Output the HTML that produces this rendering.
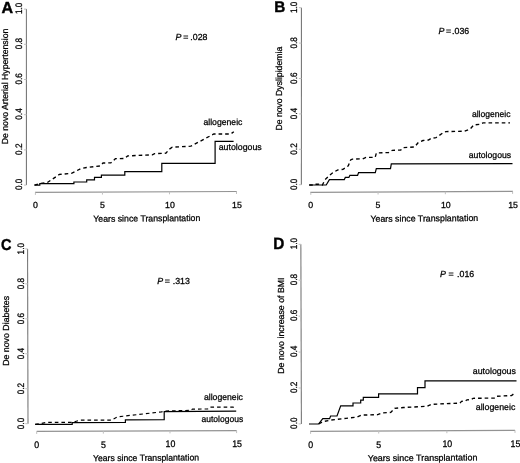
<!DOCTYPE html>
<html lang="en">
<head>
<meta charset="utf-8">
<title>De novo cardiovascular risk factors after transplantation</title>
<style>
html,body{margin:0;padding:0;background:#fff;}
body{width:520px;height:463px;overflow:hidden;}
svg{display:block;}
text{font-family:"Liberation Sans", sans-serif;text-rendering:geometricPrecision;fill:#000;stroke:#000;stroke-width:0.26px;paint-order:stroke;}
.t{font-size:8.8px;}
.letter{font-size:15.3px;font-weight:bold;fill:#000;stroke-width:0.4px;}
.ax{stroke:#7a7a7a;stroke-width:1.1;fill:none;}
.axx{stroke:#939393;stroke-width:1.2;fill:none;}
.tk{stroke:#c0c0c0;stroke-width:1;fill:none;}
.solid{stroke:#000;stroke-width:1.2;fill:none;stroke-linejoin:miter;}
.dashed{stroke:#000;fill:none;stroke-dasharray:3.6 3;}
</style>
</head>
<body>
<svg width="520" height="463" viewBox="0 0 520 463">
<rect x="0" y="0" width="520" height="463" fill="#ffffff"/>

<g id="panel-A">
<text class="letter" transform="translate(1.4,12.75) scale(1.05,1.04)">A</text>
<path class="ax" d="M26.4,9.1 L26.45,185.1"/>
<path class="tk" d="M23.95,185.10 H26.45"/>
<text class="t" text-anchor="middle" transform="translate(21.9,184.40) rotate(-90) scale(0.93,1.07)">0.0</text>
<path class="tk" d="M23.95,149.90 H26.45"/>
<text class="t" text-anchor="middle" transform="translate(21.9,149.20) rotate(-90) scale(0.93,1.07)">0.2</text>
<path class="tk" d="M23.95,114.70 H26.45"/>
<text class="t" text-anchor="middle" transform="translate(21.9,114.00) rotate(-90) scale(0.93,1.07)">0.4</text>
<path class="tk" d="M23.95,79.50 H26.45"/>
<text class="t" text-anchor="middle" transform="translate(21.9,78.80) rotate(-90) scale(0.93,1.07)">0.6</text>
<path class="tk" d="M23.95,44.30 H26.45"/>
<text class="t" text-anchor="middle" transform="translate(21.9,43.60) rotate(-90) scale(0.93,1.07)">0.8</text>
<path class="tk" d="M23.95,9.10 H26.45"/>
<text class="t" text-anchor="middle" transform="translate(21.9,8.40) rotate(-90) scale(0.93,1.07)">1.0</text>
<path class="axx" d="M35.0,192.4 L236.9,191.5"/>
<path class="tk" d="M35.40,192.40 V194.90"/>
<text class="t" text-anchor="middle" transform="translate(35.40,208.46) scale(1,1.0)">0</text>
<path class="tk" d="M102.43,192.10 V194.60"/>
<text class="t" text-anchor="middle" transform="translate(102.43,208.16) scale(1,1.0)">5</text>
<path class="tk" d="M169.47,191.80 V194.30"/>
<text class="t" text-anchor="middle" transform="translate(169.97,207.86) scale(1,1.0)">10</text>
<path class="tk" d="M236.50,191.50 V194.00"/>
<text class="t" text-anchor="middle" transform="translate(237.00,207.56) scale(1,1.0)">15</text>
<text class="t" text-anchor="middle" transform="translate(146.8,221.4) rotate(-0.4) scale(0.993,1)">Years since Transplantation</text>
<text class="t" text-anchor="middle" transform="translate(8.0,86.5) rotate(-90) scale(0.99,1)">De novo Arterial Hypertension</text>
<text class="t" y="40.4"><tspan x="175.6" font-style="italic">P </tspan><tspan x="183.2">= </tspan><tspan x="190.3">.028</tspan></text>
<text class="t" transform="translate(203.4,125) scale(0.985,1)">allogeneic</text>
<text class="t" transform="translate(218.7,150.3) scale(1.0,1)">autologous</text>
<path class="dashed" stroke-width="1.35" d="M34.50,185.20 L39.50,183.60 L47.30,182.60 L59.40,174.40 L71.50,173.40 L80.70,168.70 L86.50,167.50 L100.00,166.00 L103.00,163.00 L110.80,162.90 L115.40,158.70 L124.60,158.50 L127.70,155.90 L152.30,154.80 L154.60,153.60 L166.00,153.20 L169.00,149.40 L172.30,147.20 L190.80,146.20 L213.80,134.00 L230.80,134.00 L233.80,131.70"/>
<path class="solid" d="M34.50,185.20 L39.80,185.20 L39.80,183.70 L73.90,183.70 L73.90,182.00 L86.70,182.00 L86.70,179.90 L94.50,179.90 L94.50,177.40 L101.40,177.40 L101.40,175.20 L124.80,175.20 L124.80,171.60 L161.80,171.60 L161.80,163.30 L215.10,163.30 L215.10,141.30 L233.60,141.30"/>
</g>
<g id="panel-B">
<text class="letter" transform="translate(274.3,11.7) scale(1.0,1.0)">B</text>
<path class="ax" d="M301.45,7.7 L301.4,184.7"/>
<path class="tk" d="M298.95,184.70 H301.45"/>
<text class="t" text-anchor="middle" transform="translate(297.0,184.40) rotate(-90) scale(0.93,1.07)">0.0</text>
<path class="tk" d="M298.95,149.30 H301.45"/>
<text class="t" text-anchor="middle" transform="translate(297.0,149.00) rotate(-90) scale(0.93,1.07)">0.2</text>
<path class="tk" d="M298.95,113.90 H301.45"/>
<text class="t" text-anchor="middle" transform="translate(297.0,113.60) rotate(-90) scale(0.93,1.07)">0.4</text>
<path class="tk" d="M298.95,78.50 H301.45"/>
<text class="t" text-anchor="middle" transform="translate(297.0,78.20) rotate(-90) scale(0.93,1.07)">0.6</text>
<path class="tk" d="M298.95,43.10 H301.45"/>
<text class="t" text-anchor="middle" transform="translate(297.0,42.80) rotate(-90) scale(0.93,1.07)">0.8</text>
<path class="tk" d="M298.95,7.70 H301.45"/>
<text class="t" text-anchor="middle" transform="translate(297.0,7.40) rotate(-90) scale(0.93,1.07)">1.0</text>
<path class="axx" d="M310.3,192.35 L513.0,191.4"/>
<path class="tk" d="M310.80,192.35 V194.85"/>
<text class="t" text-anchor="middle" transform="translate(310.80,208.46) scale(1,1.0)">0</text>
<path class="tk" d="M378.07,192.03 V194.53"/>
<text class="t" text-anchor="middle" transform="translate(378.07,208.15) scale(1,1.0)">5</text>
<path class="tk" d="M445.33,191.72 V194.22"/>
<text class="t" text-anchor="middle" transform="translate(445.83,207.83) scale(1,1.0)">10</text>
<path class="tk" d="M512.60,191.40 V193.90"/>
<text class="t" text-anchor="middle" transform="translate(513.10,207.52) scale(1,1.0)">15</text>
<text class="t" text-anchor="middle" transform="translate(424.3,221.4) rotate(-0.4) scale(1.0,1)">Years since Transplantation</text>
<text class="t" text-anchor="middle" transform="translate(281.9,88.7) rotate(-90) scale(0.985,1)">De novo Dyslipidemia</text>
<text class="t" y="34.2"><tspan x="438.5" font-style="italic">P </tspan><tspan x="446.1">= </tspan><tspan x="452.1">.036</tspan></text>
<text class="t" transform="translate(471.9,116.6) scale(0.975,1)">allogeneic</text>
<text class="t" transform="translate(468.75,158) scale(0.985,1)">autologous</text>
<path class="dashed" stroke-width="1.35" d="M309.20,185.00 L314.50,185.00 L315.50,184.20 L318.50,184.20 L319.50,185.00 L322.30,185.00 L325.20,179.60 L329.80,175.20 L332.70,172.70 L337.90,169.90 L343.00,169.30 L348.30,165.80 L350.60,160.00 L352.30,159.10 L362.70,158.80 L366.00,157.30 L375.20,157.30 L376.40,152.90 L388.50,152.60 L392.30,150.30 L400.80,150.00 L403.00,147.70 L414.60,147.00 L418.50,142.30 L423.00,140.50 L428.50,140.00 L431.50,138.20 L436.00,137.70 L443.80,132.30 L446.00,131.60 L464.60,131.20 L470.00,129.20 L473.80,125.00 L480.00,124.30 L483.00,122.90 L510.00,122.90"/>
<path class="solid" d="M309.20,185.00 L326.20,185.00 L329.40,179.70 L344.30,179.70 L345.30,177.40 L348.90,177.40 L349.90,175.30 L357.60,175.30 L358.60,172.60 L375.30,172.60 L376.30,168.70 L390.50,168.70 L391.30,163.90 L512.50,163.60"/>
</g>
<g id="panel-C">
<text class="letter" transform="translate(0.9,249.6) scale(0.95,1.04)">C</text>
<path class="ax" d="M27.55,248.9 L28.0,423.7"/>
<path class="tk" d="M25.3,423.70 H27.8"/>
<text class="t" text-anchor="middle" transform="translate(23.6,423.50) rotate(-90) scale(0.93,1.07)">0.0</text>
<path class="tk" d="M25.3,388.74 H27.8"/>
<text class="t" text-anchor="middle" transform="translate(23.6,388.54) rotate(-90) scale(0.93,1.07)">0.2</text>
<path class="tk" d="M25.3,353.78 H27.8"/>
<text class="t" text-anchor="middle" transform="translate(23.6,353.58) rotate(-90) scale(0.93,1.07)">0.4</text>
<path class="tk" d="M25.3,318.82 H27.8"/>
<text class="t" text-anchor="middle" transform="translate(23.6,318.62) rotate(-90) scale(0.93,1.07)">0.6</text>
<path class="tk" d="M25.3,283.86 H27.8"/>
<text class="t" text-anchor="middle" transform="translate(23.6,283.66) rotate(-90) scale(0.93,1.07)">0.8</text>
<path class="tk" d="M25.3,248.90 H27.8"/>
<text class="t" text-anchor="middle" transform="translate(23.6,248.70) rotate(-90) scale(0.93,1.07)">1.0</text>
<path class="axx" d="M36.7,431.45 L236.7,430.6"/>
<path class="tk" d="M36.70,431.45 V433.95"/>
<text class="t" text-anchor="middle" transform="translate(36.70,447.95) scale(1,1.08)">0</text>
<path class="tk" d="M103.33,431.17 V433.67"/>
<text class="t" text-anchor="middle" transform="translate(103.33,447.67) scale(1,1.08)">5</text>
<path class="tk" d="M169.97,430.88 V433.38"/>
<text class="t" text-anchor="middle" transform="translate(170.47,447.38) scale(1,1.08)">10</text>
<path class="tk" d="M236.60,430.60 V433.10"/>
<text class="t" text-anchor="middle" transform="translate(237.10,447.10) scale(1,1.08)">15</text>
<text class="t" text-anchor="middle" transform="translate(146.0,460.8) rotate(-0.4) scale(0.985,1)">Years since Transplantation</text>
<text class="t" text-anchor="middle" transform="translate(9.3,330.9) rotate(-90) scale(1.0,1)">De novo Diabetes</text>
<text class="t" y="284.2"><tspan x="157.3" font-style="italic">P </tspan><tspan x="164.8">= </tspan><tspan x="172.7">.313</tspan></text>
<text class="t" transform="translate(203.9,400.3) scale(0.985,1)">allogeneic</text>
<text class="t" transform="translate(201.5,421.8) scale(0.968,1)">autologous</text>
<path class="dashed" stroke-width="1.15" d="M35.20,424.40 L41.40,423.40 L46.00,422.40 L72.00,422.40 L80.00,420.10 L111.50,420.10 L117.00,417.00 L123.00,416.20 L161.50,411.90 L164.50,411.00 L190.80,410.40 L192.50,409.10 L207.70,409.00 L209.50,407.20 L233.40,407.10 L234.90,404.40"/>
<path class="solid" d="M35.20,424.40 L72.20,424.30 L72.20,422.60 L125.40,422.50 L125.40,419.80 L164.20,419.60 L164.20,411.70 L236.20,411.20"/>
</g>
<g id="panel-D">
<text class="letter" transform="translate(273.2,248.5) scale(1.0,1.08)">D</text>
<path class="ax" d="M300.85,244.3 L301.4,423.9"/>
<path class="tk" d="M298.6,423.90 H301.1"/>
<text class="t" text-anchor="middle" transform="translate(297,423.20) rotate(-90) scale(0.93,1.07)">0.0</text>
<path class="tk" d="M298.6,387.98 H301.1"/>
<text class="t" text-anchor="middle" transform="translate(297,387.28) rotate(-90) scale(0.93,1.07)">0.2</text>
<path class="tk" d="M298.6,352.06 H301.1"/>
<text class="t" text-anchor="middle" transform="translate(297,351.36) rotate(-90) scale(0.93,1.07)">0.4</text>
<path class="tk" d="M298.6,316.14 H301.1"/>
<text class="t" text-anchor="middle" transform="translate(297,315.44) rotate(-90) scale(0.93,1.07)">0.6</text>
<path class="tk" d="M298.6,280.22 H301.1"/>
<text class="t" text-anchor="middle" transform="translate(297,279.52) rotate(-90) scale(0.93,1.07)">0.8</text>
<path class="tk" d="M298.6,244.30 H301.1"/>
<text class="t" text-anchor="middle" transform="translate(297,243.60) rotate(-90) scale(0.93,1.07)">1.0</text>
<path class="axx" d="M310.2,431.4 L515.1,430.4"/>
<path class="tk" d="M310.60,431.40 V433.90"/>
<text class="t" text-anchor="middle" transform="translate(310.60,447.97) scale(1,1.08)">0</text>
<path class="tk" d="M378.73,431.07 V433.57"/>
<text class="t" text-anchor="middle" transform="translate(378.73,447.64) scale(1,1.08)">5</text>
<path class="tk" d="M446.87,430.73 V433.23"/>
<text class="t" text-anchor="middle" transform="translate(447.37,447.31) scale(1,1.08)">10</text>
<path class="tk" d="M515.00,430.40 V432.90"/>
<text class="t" text-anchor="middle" transform="translate(515.50,446.97) scale(1,1.08)">15</text>
<text class="t" text-anchor="middle" transform="translate(422.6,460.8) rotate(-0.4) scale(1.0185,1)">Years since Transplantation</text>
<text class="t" text-anchor="middle" transform="translate(284.2,325.6) rotate(-90) scale(1.0,1)">De novo increase of BMI</text>
<text class="t" y="277.0"><tspan x="439.9" font-style="italic">P </tspan><tspan x="448.6">= </tspan><tspan x="457.1">.016</tspan></text>
<text class="t" transform="translate(472.8,374.3) scale(1.0,1)">autologous</text>
<text class="t" transform="translate(475.75,410.3) scale(1.0,1)">allogeneic</text>
<path class="dashed" stroke-width="1.35" d="M318.80,423.80 L323.00,421.60 L330.80,420.10 L346.00,418.30 L357.00,417.10 L361.50,415.10 L377.70,414.70 L382.30,412.90 L390.80,412.40 L394.60,408.30 L403.80,407.50 L427.00,406.30 L431.50,404.30 L450.00,403.50 L460.00,403.10 L461.50,401.30 L465.40,401.10 L467.00,399.80 L471.50,399.60 L473.00,398.30 L495.40,398.10 L497.00,396.30 L511.50,395.50 L515.40,392.70"/>
<path class="solid" d="M309.00,424.00 L318.50,424.00 L322.80,418.60 L329.60,418.60 L330.60,416.00 L337.00,416.00 L340.70,405.90 L353.00,405.90 L353.00,403.00 L360.70,403.00 L360.70,400.20 L363.30,400.20 L363.30,397.30 L378.60,397.30 L378.60,393.90 L417.50,393.90 L417.50,387.60 L425.00,387.60 L425.00,380.80 L516.50,380.80"/>
</g>
</svg>
</body>
</html>
